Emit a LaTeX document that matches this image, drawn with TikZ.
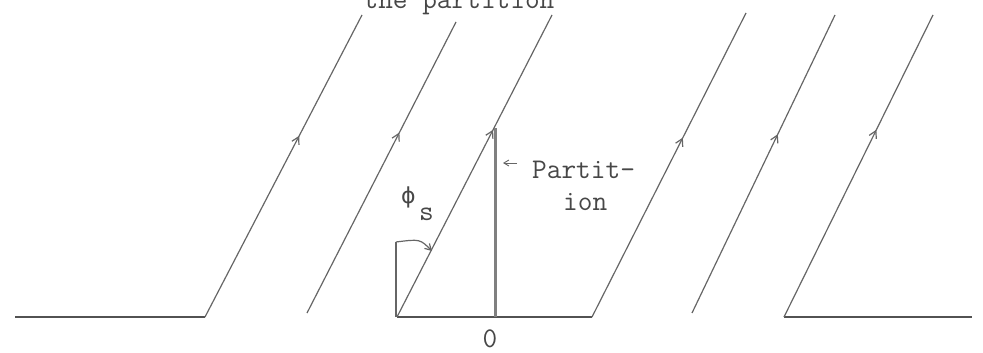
\documentclass[tikz,border=0pt]{standalone}
\usepackage{fontspec}
\newfontfamily\phifont{DejaVu Sans}
\usetikzlibrary{arrows.meta,decorations.markings}
\begin{document}
\begin{tikzpicture}[x=1pt,y=-1pt,
 ink/.style={draw=black!60, line width=1.2pt},
 ground/.style={draw=black!68, line width=2pt},
 part/.style={draw=black!50, line width=3pt},
 flow/.style={decoration={markings,mark=at position #1 with {\arrow{Straight Barb[length=7pt,width=8pt,line width=1.2pt]}}},postaction={decorate}},
 lbl/.style={font=\ttfamily\fontsize{28.5}{28.5}\selectfont, text=black!72, inner sep=0pt}]
\useasboundingbox (0,0) rectangle (983,353);
\clip (0,0) rectangle (983,353);
% coordinates
\coordinate (g1a) at (15,317);
\coordinate (g1b) at (205,317);
\coordinate (t1) at (362,15);
\coordinate (b2) at (307,313);
\coordinate (t2) at (456,22);
\coordinate (o) at (397,317);
\coordinate (t3) at (552,15);
\coordinate (g3b) at (592,317);
\coordinate (t4) at (746,13);
\coordinate (b5) at (692,313);
\coordinate (t5) at (835,15);
\coordinate (b6) at (784,317);
\coordinate (t6) at (933,15);
\coordinate (g6b) at (972,317);
\coordinate (ptop) at (495,128);
\coordinate (pbot) at (495,317);
\coordinate (vbot) at (396,317);
\coordinate (ang) at (396,242);
\coordinate (angc) at (420,239);
\coordinate (angtip) at (432,251);
\coordinate (pas) at (517,163);
\coordinate (pae) at (503,163);
% lines
\draw[ground] (g1a) -- (g1b);
\draw[ink, flow=0.6] (g1b) -- (t1);
\draw[ink, flow=0.62] (b2) -- (t2);
\draw[ground] (o) -- (g3b);
\draw[ink, flow=0.62] (o) -- (t3);
\draw[part] (pbot) -- (ptop);
\draw[ink, flow=0.59] (g3b) -- (t4);
\draw[ink, flow=0.6] (b5) -- (t5);
\draw[ground] (b6) -- (g6b);
\draw[ink, flow=0.62] (b6) -- (t6);
\draw[ink, line width=1.5pt] (vbot) -- (ang);
\draw[ink, -{Straight Barb[length=6pt,width=7pt]}] (ang) .. controls (angc) .. (angtip);
\draw[ink, line width=0.9pt, -{Straight Barb[length=5pt,width=6pt]}] (pas) -- (pae);
% labels
\node[lbl, anchor=base] (title) at (459,8.5) {the partition};
\node[lbl, anchor=base west] (partlbl) at (532,178) {Partit-};
\node[lbl, anchor=base west] (ionlbl) at (563,210) {ion};
\node[lbl, anchor=base] (zero) at (490,347) {0};
\node[text=black!72, inner sep=0pt, anchor=base west, font=\phifont\fontsize{22}{22}\selectfont] (phi) at (401,203) {ϕ};
\node[lbl, anchor=base west] (sub) at (419,220) {s};
\end{tikzpicture}
\end{document}
